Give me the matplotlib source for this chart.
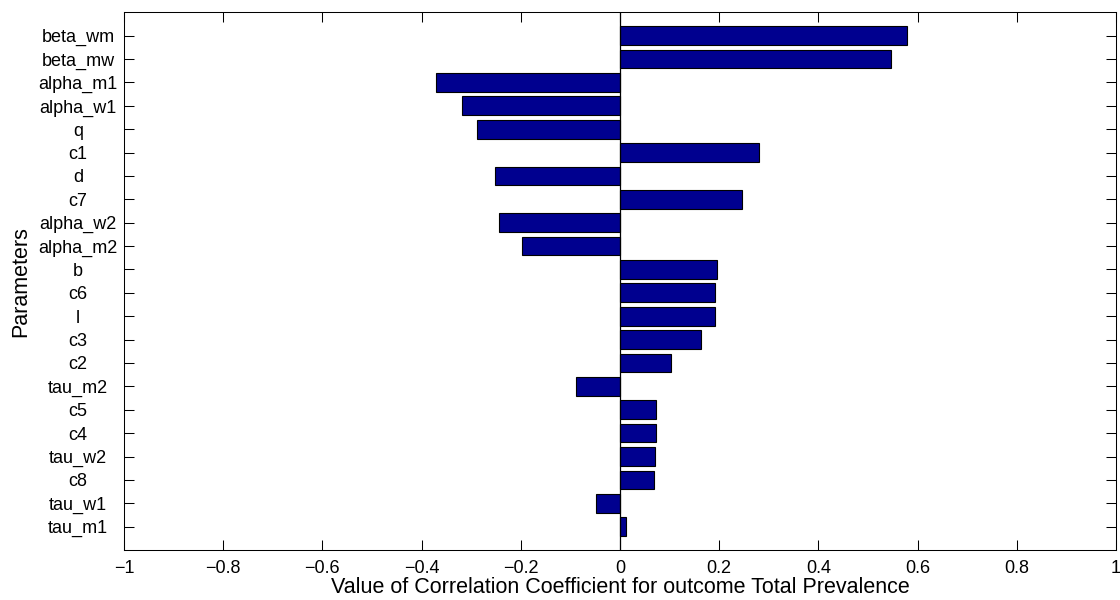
import matplotlib
matplotlib.use('Agg')
import matplotlib.pyplot as plt

plt.rcParams['font.family'] = ['Liberation Sans', 'DejaVu Sans']

params = ['beta_wm', 'beta_mw', 'alpha_m1', 'alpha_w1', 'q', 'c1', 'd', 'c7',
          'alpha_w2', 'alpha_m2', 'b', 'c6', 'l', 'c3', 'c2', 'tau_m2',
          'c5', 'c4', 'tau_w2', 'c8', 'tau_w1', 'tau_m1']
corr = [0.578, 0.546, -0.370, -0.319, -0.288, 0.281, -0.251, 0.246,
        -0.244, -0.197, 0.196, 0.192, 0.191, 0.163, 0.103, -0.089,
        0.073, 0.072, 0.071, 0.068, -0.048, 0.0115]
xticks = [-1, -0.8, -0.6, -0.4, -0.2, 0, 0.2, 0.4, 0.6, 0.8, 1]
xticklabels = ['\u22121', '\u22120.8', '\u22120.6', '\u22120.4', '\u22120.2', '0',
               '0.2', '0.4', '0.6', '0.8', '1']

fig = plt.figure(figsize=(11.2, 6), dpi=100)
ax = fig.add_axes([0.1107, 0.0833, 0.8857, 0.8962])

# barh positions 1..N with the first parameter on top, like matlab
pos = list(range(len(params), 0, -1))
ax.barh(pos, corr, height=0.8, color='#00008F', edgecolor='black', linewidth=0.8)
ax.axvline(0, color='black', linewidth=0.9)

ax.set_xlim(-1, 1)
ax.set_ylim(0, len(params) + 1)
ax.set_yticks(pos)
ax.set_yticklabels(params, ha='center')
ax.set_xticks(xticks)
ax.set_xticklabels(xticklabels)

ax.tick_params(axis='both', direction='in', length=7.2, width=0.75,
               top=True, right=True, labelsize=13)
ax.tick_params(axis='y', pad=33)
ax.tick_params(axis='x', pad=7)
for s in ax.spines.values():
    s.set_linewidth(0.75)

ax.set_xlabel('Value of Correlation Coefficient for outcome Total Prevalence',
              fontsize=15.5, labelpad=0)
ax.set_ylabel('Parameters', fontsize=15.5, labelpad=5)

fig.savefig('out.png', dpi=100)
